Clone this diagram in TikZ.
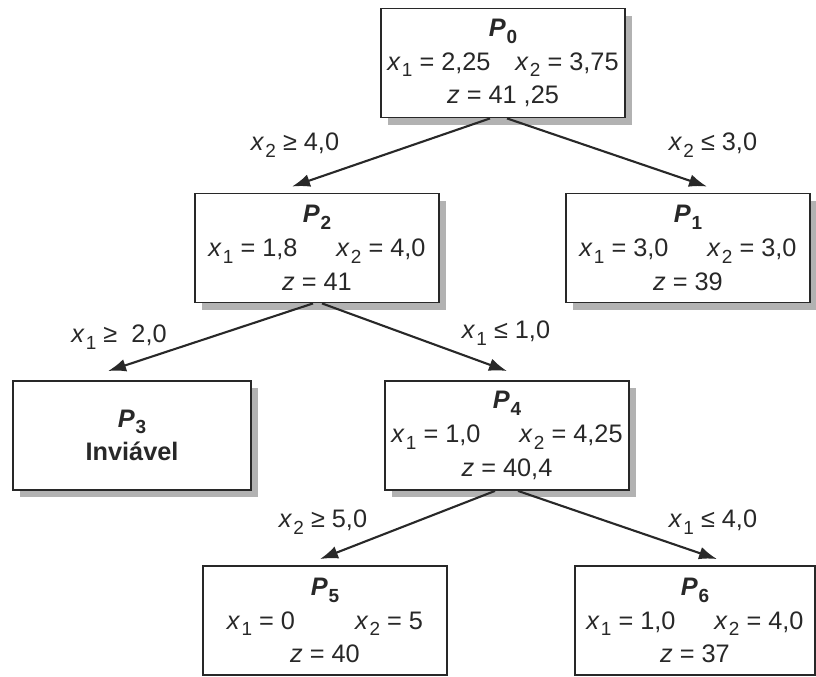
\documentclass[tikz,border=0pt]{standalone}
\usepackage{fontspec}
\setmainfont{Liberation Sans}
\usetikzlibrary{arrows.meta,shadows}
\definecolor{inkgray}{RGB}{40,40,40}
\definecolor{shadegray}{RGB}{178,178,178}
\newcommand{\lowsub}[1]{\raisebox{-0.5ex}{\fontsize{13.5}{13.5}\selectfont #1}}
\newcommand{\xv}[1]{\textit{x}\kern0.8pt\lowsub{#1}}
\newcommand{\zv}{\textit{z}}
\newcommand{\pv}[1]{\textbf{\textit{P}\kern0.5pt\lowsub{#1}}}
\newcommand{\xrow}[2]{\makebox[3.2cm][l]{\xv{1} = #1}\xv{2} = #2}

\begin{document}
\begin{tikzpicture}[x=0.025cm,y=0.025cm,
    prob/.style={draw=inkgray,fill=white,line width=1.3pt,
      minimum width=6.1cm,minimum height=2.725cm,inner sep=0pt,
      align=center,text=inkgray,font=\fontsize{18}{24}\selectfont},
    shade/.style={drop shadow={shadow xshift=0.18cm,shadow yshift=-0.18cm,
      fill=shadegray,opacity=1}},
    branch/.style={draw=inkgray,line width=1.5pt,
      -{Latex[length=0.45cm,width=0.32cm]}},
    cond/.style={text=inkgray,font=\fontsize{18}{22}\selectfont}]
  \useasboundingbox (0,0) rectangle (816,677);
  % subproblems
  \node[prob,shade] (P0) at (503,614)
    {\pv{0}\\ \xrow{2,25}{3,75}\\ \zv{} = 41 ,25};
  \node[prob,shade] (P2) at (317,429)
    {\pv{2}\\ \xrow{1,8}{4,0}\\ \zv{} = 41};
  \node[prob,shade] (P1) at (688,429)
    {\pv{1}\\ \xrow{3,0}{3,0}\\ \zv{} = 39};
  \node[prob,shade,minimum width=5.95cm] (P3) at (132,241.5)
    {\pv{3}\\ \textbf{Inviável}};
  \node[prob,shade] (P4) at (507,241.5)
    {\pv{4}\\ \xrow{1,0}{4,25}\\ \zv{} = 40,4};
  \node[prob] (P5) at (325,56.5)
    {\pv{5}\\ \xrow{0}{5}\\ \zv{} = 40};
  \node[prob,minimum width=6.0cm] (P6) at (695,56.5)
    {\pv{6}\\ \xrow{1,0}{4,0}\\ \zv{} = 37};
  % branches
  \draw[branch] ([xshift=-0.325cm]P0.south) -- ([xshift=-0.625cm,yshift=0.15cm]P2.north);
  \draw[branch] ([xshift=0.1cm]P0.south) -- ([xshift=0.475cm,yshift=0.15cm]P1.north);
  \draw[branch] ([xshift=-0.1cm]P2.south) -- ([xshift=-0.6cm,yshift=0.225cm]P3.north);
  \draw[branch] ([xshift=0.125cm]P2.south) -- ([yshift=0.225cm]P4.north);
  \draw[branch] ([xshift=-0.3cm]P4.south) -- ([xshift=-0.125cm,yshift=0.15cm]P5.north);
  \draw[branch] ([xshift=0.275cm]P4.south) -- ([xshift=0.55cm,yshift=0.15cm]P6.north);
  % branching constraints
  \node[cond] (c02) at (295,532) {\xv{2} ≥ 4,0};
  \node[cond] (c01) at (713,532) {\xv{2} ≤ 3,0};
  \node[cond] (c23) at (119,340) {\xv{1} ≥\ \ 2,0};
  \node[cond] (c24) at (506,344) {\xv{1} ≤ 1,0};
  \node[cond] (c45) at (323,155) {\xv{2} ≥ 5,0};
  \node[cond] (c46) at (713,155) {\xv{1} ≤ 4,0};
\end{tikzpicture}
\end{document}
